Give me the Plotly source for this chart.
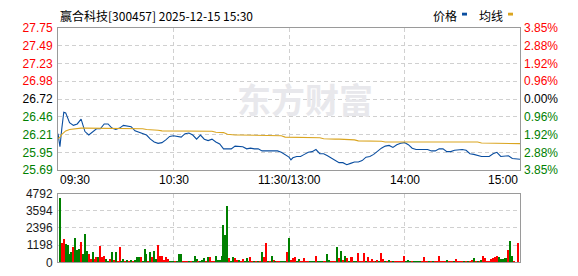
import plotly.graph_objects as go

# ---------------- data ----------------
title_text = "赢合科技[300457] 2025-12-15 15:30"
prev_close = 26.72

price_minutes = [0, 1, 2, 3] + list(range(4, 121, 2)) + [121] + list(range(122, 241, 2))
price = [
    26.22, 26.03, 26.30, 26.53,
    26.52, 26.38, 26.34, 26.36, 26.43, 26.25, 26.20, 26.25, 26.29, 26.29, 26.36, 26.36, 26.30, 26.28, 26.30, 26.34, 26.33, 26.32,
    26.26, 26.24, 26.23, 26.20, 26.14, 26.10, 26.08, 26.09, 26.13, 26.18, 26.19, 26.18, 26.17, 26.22, 26.23, 26.20, 26.14, 26.20, 26.14, 26.12,
    26.14, 26.10, 26.07, 26.00, 26.00, 26.00, 26.04, 26.04, 26.03, 26.00, 26.01, 26.00, 26.00, 25.97, 25.97, 25.97, 25.96, 25.97, 25.95, 25.92,
    25.88, 25.84,
    25.87, 25.89, 25.89, 25.92, 25.95, 25.96, 25.99, 25.93, 25.93, 25.90, 25.87, 25.83, 25.80, 25.80, 25.77, 25.79, 25.81, 25.81, 25.83, 25.88,
    25.89, 25.92, 25.97, 26.01, 26.04, 26.05, 26.02, 26.06, 26.08, 26.09, 26.06, 26.01, 25.99, 25.99, 26.00, 25.99, 25.97, 25.97, 26.00, 26.00,
    25.96, 25.96, 25.98, 25.99, 25.99, 25.98, 25.93, 25.92, 25.90, 25.89, 25.89, 25.89, 25.93, 25.95, 25.89, 25.89, 25.90, 25.86, 25.85, 25.85,
]
avg_price = [
    26.15, 26.17, 26.21, 26.24,
    26.26, 26.28, 26.29, 26.295, 26.30, 26.30, 26.30, 26.30, 26.30, 26.30, 26.30, 26.30, 26.30, 26.30, 26.30, 26.30, 26.30, 26.30,
    26.30, 26.30, 26.29, 26.28, 26.28, 26.28, 26.27, 26.26, 26.26, 26.26, 26.255, 26.255, 26.255, 26.255, 26.255, 26.255, 26.255, 26.255, 26.255, 26.255,
    26.255, 26.24, 26.235, 26.235, 26.21, 26.20, 26.20, 26.20, 26.20, 26.20, 26.20, 26.20, 26.20, 26.19, 26.19, 26.19, 26.19, 26.19, 26.19, 26.17,
    26.17, 26.17,
    26.17, 26.16, 26.16, 26.16, 26.16, 26.16, 26.16, 26.16, 26.145, 26.14, 26.14, 26.14, 26.14, 26.14, 26.14, 26.14, 26.13, 26.115, 26.115, 26.115,
    26.115, 26.115, 26.115, 26.11, 26.10, 26.10, 26.10, 26.10, 26.10, 26.10, 26.10, 26.10, 26.10, 26.10, 26.10, 26.10, 26.10, 26.10, 26.10, 26.10,
    26.10, 26.10, 26.10, 26.10, 26.10, 26.10, 26.10, 26.10, 26.10, 26.085, 26.085, 26.085, 26.085, 26.085, 26.085, 26.085, 26.085, 26.075, 26.075, 26.075,
]

volume = [
    0, 4530, 1400, 1640, 1310, 1240, 640, 730, 1130, 1730,
    870, 980, 1465, 580, 1980, 845, 600, 290, 730, 290,
    380, 380, 1180, 380, 510, 290, 155, 245, 730, 200,
    730, 90, 1130, 110, 245, 110, 180, 90, 200, 70,
    180, 380, 380, 380, 70, 980, 580, 70, 730, 400,
    845, 245, 1240, 510, 510, 200, 380, 245, 70, 110,
    70, 70, 70, 580, 580, 70, 70, 110, 70, 110,
    155, 445, 290, 70, 70, 200, 310, 155, 380, 380,
    70, 70, 445, 200, 200, 445, 2660, 1910, 3930, 310,
    70, 380, 310, 200, 200, 70, 245, 70, 310, 110,
    380, 70, 110, 70, 70, 70, 730, 380, 1400, 70,
    70, 445, 200, 70, 70, 110, 155, 110, 110, 730,
    1755, 180, 310, 380, 70, 245, 70, 70, 310, 70,
    70, 70, 70, 70, 510, 70, 70, 110, 70, 70,
    580, 180, 70, 70, 70, 1110, 310, 845, 200, 445,
    310, 110, 380, 380, 110, 70, 710, 70, 110, 710,
    110, 380, 110, 245, 110, 70, 180, 70, 710, 245,
    70, 110, 200, 70, 70, 110, 70, 70, 70, 70,
    510, 70, 180, 70, 70, 110, 70, 70, 70, 70,
    380, 70, 70, 110, 70, 70, 70, 70, 510, 70,
    70, 70, 180, 70, 70, 70, 110, 245, 70, 110,
    70, 70, 70, 110, 110, 180, 310, 70, 70, 110,
    180, 510, 310, 70, 70, 245, 310, 380, 510, 380,
    245, 245, 310, 310, 910, 1510, 445, 70, 30, 1376,
    0,
]
volume_dir = (
    "RGRRGGGGRG" "GGRGGGRRGR" "RGRRRGGRGR" "GRRGGRGRGR" "GGGRGGGRGR"
    "GGRRRRRRGG" "GRGGGRRRGR" "GGGRGGGRGR" "RRGGGGGGGR" "GGRRGRRGGG"
    "RRGRGRGRRG" "RGRGRRGGGR" "GRRRGGRRRR" "RGGGRGGGRR" "GGRRRGRGRG"
    "RGRRGGRRRR" "GRRRRGRGRR" "GRGRGRRRRR" "RGGGRGGGGR" "RRRGRGRRRR"
    "RRGRRRGRRR" "RGRGRRGRGR" "GRRRRRRRRG" "GGGGRGGRRR" "R"
)

price_ticks = [25.69, 25.9475, 26.205, 26.4625, 26.72, 26.9775, 27.235, 27.4925, 27.75]
price_labels = ["25.69", "25.95", "26.21", "26.46", "26.72", "26.98", "27.23", "27.49", "27.75"]
pct_labels = ["3.85%", "2.88%", "1.92%", "0.96%", "0.00%", "0.96%", "1.92%", "2.88%", "3.85%"]
vol_ticks = [0, 1198, 2396, 3594, 4792]
time_ticks = [0, 60, 120, 180, 240]
time_labels = ["09:30", "10:30", "11:30/13:00", "14:00", "15:00"]
legend_names = ["价格", "均线"]
watermark = "东方财富"

# ---------------- style ----------------
RED, GREEN, BLACK = "#ff0000", "#008000", "#000000"
BLUE, GOLD = "#0a4ea0", "#daa520"
GRID, BORDER = "#d0d0d0", "#9a9a9a"
NUMFONT = "Liberation Sans, Arial, sans-serif"
CJKFONT = "Noto Sans CJK SC, sans-serif"

def col(v):
    if v > prev_close + 1e-9:
        return RED
    if v < prev_close - 1e-9:
        return GREEN
    return BLACK

left_text = [f"<span style='color:{col(v)}'>{t}</span>" for v, t in zip(price_ticks, price_labels)]
right_text = [f"<span style='color:{col(v)}'>{t}</span>" for v, t in zip(price_ticks, pct_labels)]
bar_colors = [RED if d == "R" else GREEN for d in volume_dir]

W, H = 578, 276
def py(pix):
    return (H - pix) / H

fig = go.Figure()
fig.add_trace(go.Scatter(x=price_minutes, y=price, mode="lines",
                         line=dict(color=BLUE, width=1.1), xaxis="x", yaxis="y", hoverinfo="skip"))
fig.add_trace(go.Scatter(x=price_minutes, y=avg_price, mode="lines",
                         line=dict(color=GOLD, width=1.1), xaxis="x", yaxis="y", hoverinfo="skip"))
fig.add_trace(go.Scatter(x=[price_minutes[0]], y=[prev_close], mode="markers",
                         marker=dict(opacity=0), xaxis="x", yaxis="y2", hoverinfo="skip"))
fig.add_trace(go.Bar(x=list(range(len(volume))), y=volume, marker=dict(color=bar_colors, line=dict(width=0)),
                     width=0.6, xaxis="x2", yaxis="y3", hoverinfo="skip"))

grid_common = dict(showgrid=True, gridcolor=GRID, griddash="4px,3px", gridwidth=1,
                   showline=True, linecolor=BORDER, linewidth=1, mirror=True,
                   zeroline=False, ticks="", fixedrange=True)

fig.update_layout(
    width=W, height=H, margin=dict(l=58, r=58, t=0, b=0),
    paper_bgcolor="white", plot_bgcolor="white", showlegend=False,
    bargap=0,
    xaxis=dict(domain=[0, 1], anchor="y", range=[0, 240], tickvals=time_ticks,
               showticklabels=False, **grid_common),
    yaxis=dict(domain=[py(172), py(22)], anchor="x", range=[price_ticks[0], price_ticks[-1]],
               tickvals=price_ticks, ticktext=left_text, ticklabelstandoff=2,
               tickfont=dict(family=NUMFONT, size=12, color=BLACK), **grid_common),
    yaxis2=dict(overlaying="y", anchor="x", side="right", range=[price_ticks[0], price_ticks[-1]],
                tickvals=price_ticks, ticktext=right_text, showgrid=False, zeroline=False,
                showline=False, ticks="", ticklabelstandoff=3,
                tickfont=dict(family=NUMFONT, size=12, color=BLACK)),
    xaxis2=dict(domain=[0, 1], anchor="y3", range=[0, 240], tickvals=time_ticks,
                showticklabels=False, **grid_common),
    yaxis3=dict(domain=[py(269), py(196.5)], anchor="x2", range=[0, vol_ticks[-1]],
                tickvals=vol_ticks, ticktext=[str(v) for v in vol_ticks], ticklabelstandoff=2,
                tickfont=dict(family=NUMFONT, size=12, color="#1a1a1a"), **grid_common),
)

ann = []
ann.append(dict(text=title_text, x=0, y=py(8.5), xref="paper", yref="paper", xanchor="left",
                yanchor="middle", showarrow=False, font=dict(family=CJKFONT, size=12, color="#000")))
anchors = ["left", "center", "center", "center", "right"]
for t, lab, a in zip(time_ticks, time_labels, anchors):
    ann.append(dict(text=lab, x=t, y=py(182), xref="x", yref="paper", xanchor=a, yanchor="middle",
                    showarrow=False, font=dict(family=NUMFONT, size=12, color="#000")))
ann.append(dict(text=legend_names[0], x=(431 - 58) / 462, y=py(8.5), xref="paper", yref="paper",
                xanchor="left", yanchor="middle", showarrow=False,
                font=dict(family=CJKFONT, size=12, color="#000")))
ann.append(dict(text=legend_names[1], x=(477 - 58) / 462, y=py(8.5), xref="paper", yref="paper",
                xanchor="left", yanchor="middle", showarrow=False,
                font=dict(family=CJKFONT, size=12, color="#000")))
ann.append(dict(text=f"<b>{watermark}</b>", x=(305 - 58) / 462, y=py(96), xref="paper", yref="paper",
                xanchor="center", yanchor="middle", showarrow=False,
                font=dict(family=CJKFONT, size=34, color="#e8e8ec")))
fig.update_layout(annotations=ann)

fig.add_shape(type="rect", xref="paper", yref="paper", x0=(462 - 58) / 462, x1=(467 - 58) / 462,
              y0=py(9), y1=py(6), fillcolor=BLUE, line=dict(width=0))
fig.add_shape(type="rect", xref="paper", yref="paper", x0=(508 - 58) / 462, x1=(513 - 58) / 462,
              y0=py(9), y1=py(6), fillcolor=GOLD, line=dict(width=0))

fig.write_html("out.html")
